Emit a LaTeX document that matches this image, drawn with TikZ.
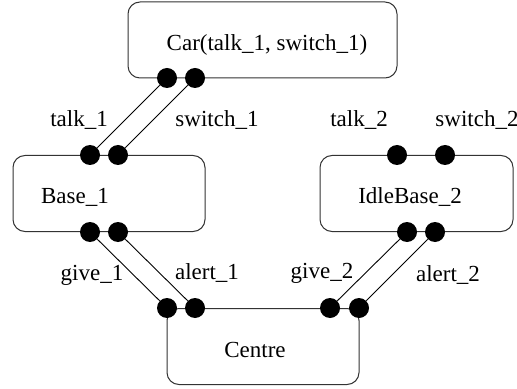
\documentclass[tikz,border=0pt]{standalone}
\usepackage{fontspec}
\setmainfont{Liberation Serif}
\usepackage{tikz}

\begin{document}
\begin{tikzpicture}[x=0.5pt, y=-0.5pt,
  proc/.style={rectangle, draw=black!80, rounded corners=6pt, line width=0.5pt, minimum height=38pt, inner sep=0pt},
  port/.style={circle, fill=black, inner sep=0pt, minimum size=10pt},
  lab/.style={font=\fontsize{11.5}{13}\selectfont, inner sep=1pt},
  wire/.style={line width=0.45pt}
]
\useasboundingbox (0,0) rectangle (517,389);

% processes
\node[proc, minimum width=134.5pt] (car) at (262.5,40) {};
\node[proc, minimum width=96pt] (base1) at (109,193.5) {};
\node[proc, minimum width=96.5pt] (idle2) at (416.5,193.5) {};
\node[proc, minimum width=96pt] (centre) at (263,346.5) {};

\node[lab] (cartxt) at (267,45) {Car(talk\_1, switch\_1)};
\node[lab] (base1txt) at (75,197) {Base\_1};
\node[lab] (idle2txt) at (410,197) {IdleBase\_2};
\node[lab] (centretxt) at (255,350) {Centre};

% ports
\node[port] (c1) at (167,78) {};
\node[port] (c2) at (195,78) {};
\node[port] (b1t) at (90,155) {};
\node[port] (b2t) at (118,155) {};
\node[port] (b1b) at (90,232) {};
\node[port] (b2b) at (118,232) {};
\node[port] (i1t) at (397,155) {};
\node[port] (i2t) at (445,155) {};
\node[port] (i1b) at (407,232) {};
\node[port] (i2b) at (435,232) {};
\node[port] (e1) at (167,308) {};
\node[port] (e2) at (195,308) {};
\node[port] (e3) at (330,308) {};
\node[port] (e4) at (359,308) {};

% channels
\draw[wire] (c1) -- (b1t);
\draw[wire] (c2) -- (b2t);
\draw[wire] (b1b) -- (e1);
\draw[wire] (b2b) -- (e2);
\draw[wire] (i1b) -- (e3);
\draw[wire] (i2b) -- (e4);

% channel names
\node[lab] (talk1) at (79,120) {talk\_1};
\node[lab] (switch1) at (217,120) {switch\_1};
\node[lab] (talk2) at (359,120) {talk\_2};
\node[lab] (switch2) at (477,120) {switch\_2};
\node[lab] (give1) at (92,275) {give\_1};
\node[lab] (alert1) at (207,273) {alert\_1};
\node[lab] (give2) at (322,273) {give\_2};
\node[lab] (alert2) at (448,275) {alert\_2};

\end{tikzpicture}
\end{document}
